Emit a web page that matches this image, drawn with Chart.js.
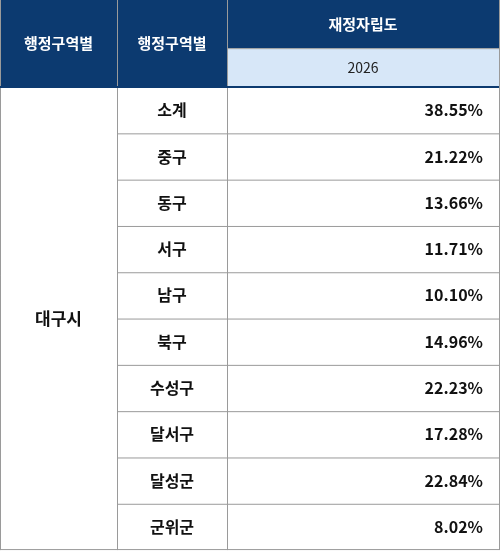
<!DOCTYPE html>
<html lang="ko">
<head>
<meta charset="UTF-8">
<title>재정자립도</title>
<script src="https://cdn.jsdelivr.net/npm/chart.js"></script>
<style>
  body { margin: 0; background: #fff; }
  #wrap { width: 500px; height: 551px; }
</style>
</head>
<body>
<div id="wrap"><canvas id="tbl"></canvas></div>
<script>
  const headers = ['행정구역별', '행정구역별', '재정자립도'];
  const year = '2026';
  const region = '대구시';
  const districts = ['소계', '중구', '동구', '서구', '남구', '북구', '수성구', '달서구', '달성군', '군위군'];
  const ratios = [38.55, 21.22, 13.66, 11.71, 10.10, 14.96, 22.23, 17.28, 22.84, 8.02];

  const colEdges = [0, 117, 227, 499];
  const headTop = -1.88, headMid = -0.84;
  const navy = '#0c3a70', light = '#d7e7f8', line = '#9a9a9a';
  const font = '"Noto Sans CJK KR", "Noto Sans", sans-serif';

  const tablePlugin = {
    id: 'tablePlugin',
    afterDraw(chart) {
      const ctx = chart.ctx, x = chart.scales.x, y = chart.scales.y;
      const X = v => x.getPixelForValue(v), Y = v => y.getPixelForValue(v);
      ctx.save();
      ctx.textBaseline = 'middle';
      // header
      ctx.fillStyle = navy;
      ctx.fillRect(X(colEdges[0]), Y(headTop), X(colEdges[2]) - X(colEdges[0]), Y(0) - Y(headTop));
      ctx.fillRect(X(colEdges[2]), Y(headTop), X(colEdges[3]) - X(colEdges[2]), Y(headMid) - Y(headTop));
      ctx.fillStyle = light;
      ctx.fillRect(X(colEdges[2]), Y(headMid), X(colEdges[3]) - X(colEdges[2]), Y(0) - Y(headMid));
      ctx.font = 'bold 15px ' + font;
      ctx.textAlign = 'center';
      ctx.fillStyle = '#fff';
      ctx.fillText(headers[0], (X(colEdges[0]) + X(colEdges[1])) / 2, (Y(headTop) + Y(0)) / 2);
      ctx.fillText(headers[1], (X(colEdges[1]) + X(colEdges[2])) / 2, (Y(headTop) + Y(0)) / 2);
      ctx.fillText(headers[2], (X(colEdges[2]) + X(colEdges[3])) / 2, (Y(headTop) + Y(headMid)) / 2);
      ctx.font = '14px ' + font;
      ctx.fillStyle = '#222';
      ctx.fillText(year, (X(colEdges[2]) + X(colEdges[3])) / 2, (Y(headMid) + Y(0)) / 2);
      // body
      ctx.fillStyle = '#111';
      ctx.font = 'bold 17px ' + font;
      ctx.fillText(region, (X(colEdges[0]) + X(colEdges[1])) / 2, (Y(0) + Y(districts.length)) / 2);
      ctx.font = 'bold 16px ' + font;
      districts.forEach((d, i) => {
        const cy = (Y(i) + Y(i + 1)) / 2;
        ctx.textAlign = 'center';
        ctx.fillText(d, (X(colEdges[1]) + X(colEdges[2])) / 2, cy);
        ctx.textAlign = 'right';
        ctx.fillText(ratios[i].toFixed(2) + '%', X(colEdges[3]) - 16, cy);
      });
      // grid lines
      ctx.strokeStyle = line;
      ctx.lineWidth = 1;
      ctx.beginPath();
      for (let i = 1; i < districts.length; i++) {
        ctx.moveTo(X(colEdges[1]), Y(i) + 0.5);
        ctx.lineTo(X(colEdges[3]), Y(i) + 0.5);
      }
      ctx.moveTo(X(colEdges[2]), Y(headMid) + 0.5);
      ctx.lineTo(X(colEdges[3]), Y(headMid) + 0.5);
      colEdges.forEach(c => {
        ctx.moveTo(Math.round(X(c)) + 0.5, Y(headTop));
        ctx.lineTo(Math.round(X(c)) + 0.5, Y(districts.length));
      });
      ctx.moveTo(X(colEdges[0]), Y(districts.length) - 0.5);
      ctx.lineTo(X(colEdges[3]), Y(districts.length) - 0.5);
      ctx.stroke();
      ctx.strokeStyle = navy;
      ctx.lineWidth = 2;
      ctx.beginPath();
      ctx.moveTo(X(colEdges[0]), Y(0));
      ctx.lineTo(X(colEdges[3]), Y(0));
      ctx.stroke();
      ctx.restore();
    }
  };

  new Chart(document.getElementById('tbl'), {
    type: 'scatter',
    data: { datasets: [{ data: [] }] },
    options: {
      responsive: true,
      maintainAspectRatio: false,
      animation: false,
      layout: { padding: 0 },
      plugins: { legend: { display: false }, tooltip: { enabled: false } },
      scales: {
        x: { type: 'linear', min: 0, max: 500, display: false },
        y: { type: 'linear', min: headTop, max: districts.length + 0.02, reverse: true, display: false }
      }
    },
    plugins: [tablePlugin]
  });
</script>
</body>
</html>
